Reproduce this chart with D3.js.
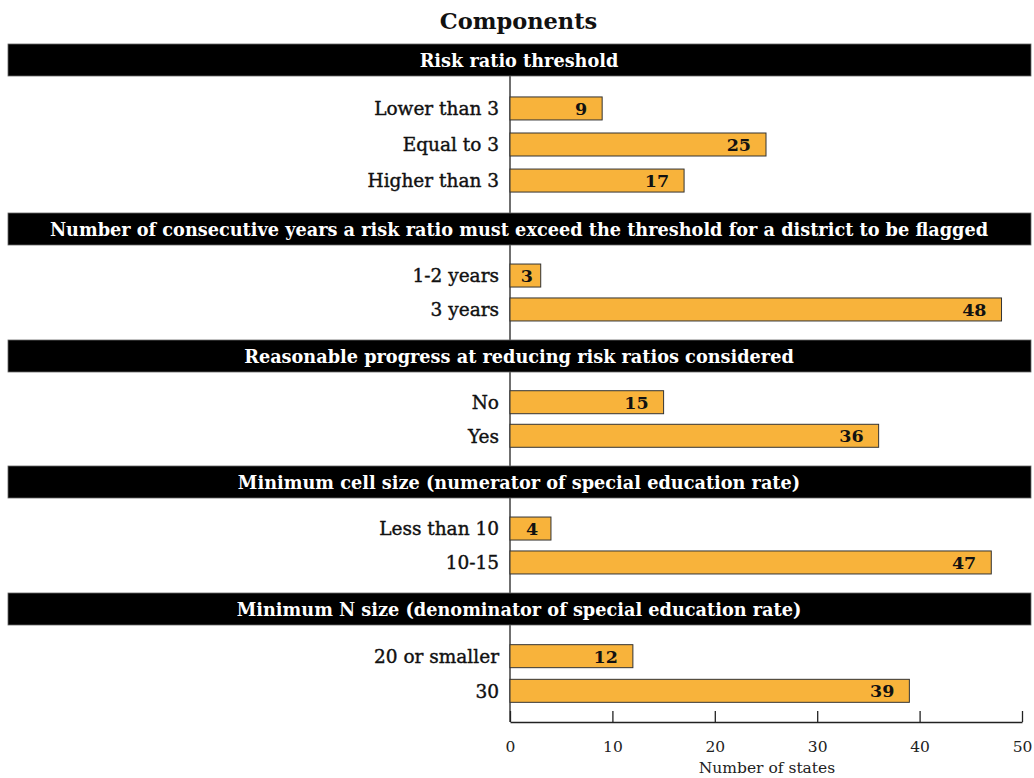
<!DOCTYPE html>
<html>
<head>
<meta charset="utf-8">
<script src="https://cdn.jsdelivr.net/npm/d3@7"></script>
<style>
  html, body { margin: 0; padding: 0; background: #fff; }
  svg { display: block; }
  text { font-family: "DejaVu Serif", serif; }
</style>
</head>
<body>
<svg id="chart" width="1034" height="778"></svg>
<script>
// ---- data ----
const groups = [
  "Risk ratio threshold",
  "Number of consecutive years a risk ratio must exceed the threshold for a district to be flagged",
  "Reasonable progress at reducing risk ratios considered",
  "Minimum cell size (numerator of special education rate)",
  "Minimum N size (denominator of special education rate)"
];
const categories1 = ["Lower than 3", "Equal to 3", "Higher than 3"];
const categories2 = ["1-2 years", "3 years"];
const categories3 = ["No", "Yes"];
const categories4 = ["Less than 10", "10-15"];
const categories5 = ["20 or smaller", "30"];
const values1 = [9, 25, 17];
const values2 = [3, 48];
const values3 = [15, 36];
const values4 = [4, 47];
const values5 = [12, 39];
const xTicks = [0, 10, 20, 30, 40, 50];
const chartTitle = "Components";
const xTitle = "Number of states";

const categories = [categories1, categories2, categories3, categories4, categories5];
const values = [values1, values2, values3, values4, values5];

// ---- layout ----
const svg = d3.select("#chart");
const headerTops = [44, 213, 340, 466, 593];
const headerH = 32;
const axisY = 722;
const headerX0 = 8, headerX1 = 1031;
const barH = 23;
const barColor = "#F8B33B";

const x = d3.scaleLinear().domain([0, 50]).range([510, 1022]);

// title
svg.append("text")
  .attr("x", 518.5).attr("y", 29)
  .attr("text-anchor", "middle")
  .attr("font-weight", "bold")
  .attr("font-size", 22.5)
  .attr("fill", "#111")
  .text(chartTitle);

// vertical baseline
svg.append("line")
  .attr("x1", x(0)).attr("x2", x(0))
  .attr("y1", headerTops[0] + headerH).attr("y2", axisY)
  .attr("stroke", "#222").attr("stroke-width", 1.3);

groups.forEach((g, i) => {
  const top = headerTops[i] + headerH;
  const bottom = i < groups.length - 1 ? headerTops[i + 1] : axisY;
  const y = d3.scaleBand()
    .domain(categories[i])
    .range([top, bottom])
    .paddingInner(0)
    .paddingOuter(0.4);

  const data = categories[i].map((c, j) => ({ c, v: values[i][j] }));
  const grp = svg.append("g");

  grp.selectAll("rect.bar").data(data).join("rect")
    .attr("class", "bar")
    .attr("x", x(0))
    .attr("y", d => y(d.c) + y.bandwidth() / 2 - barH / 2)
    .attr("width", d => x(d.v) - x(0))
    .attr("height", barH)
    .attr("fill", barColor)
    .attr("stroke", "#333")
    .attr("stroke-width", 1);

  grp.selectAll("text.cat").data(data).join("text")
    .attr("class", "cat")
    .attr("x", 499)
    .attr("y", d => y(d.c) + y.bandwidth() / 2)
    .attr("dy", "0.37em")
    .attr("text-anchor", "end")
    .attr("font-size", 18.5)
    .attr("fill", "#111")
    .attr("stroke", "#111")
    .attr("stroke-width", 0.4)
    .text(d => d.c);

  grp.selectAll("text.val").data(data).join("text")
    .attr("class", "val")
    .attr("x", d => d.v < 6 ? (x(0) + x(d.v)) / 2 + 1.5 : x(d.v) - 15)
    .attr("y", d => y(d.c) + y.bandwidth() / 2)
    .attr("dy", "0.37em")
    .attr("text-anchor", d => d.v < 6 ? "middle" : "end")
    .attr("font-size", 17.5)
    .attr("font-weight", "bold")
    .attr("fill", "#111")
    .text(d => d.v);

  // header
  svg.append("rect")
    .attr("x", headerX0).attr("y", headerTops[i])
    .attr("width", headerX1 - headerX0).attr("height", headerH)
    .attr("fill", "#000")
    .attr("stroke", "#666").attr("stroke-width", 0.8);
  svg.append("text")
    .attr("x", (headerX0 + headerX1) / 2 - 0.5)
    .attr("y", headerTops[i] + headerH / 2)
    .attr("dy", "0.37em")
    .attr("text-anchor", "middle")
    .attr("font-weight", "bold")
    .attr("font-size", 17.7)
    .attr("fill", "#fff")
    .text(g);
});

// x axis
const axis = d3.axisBottom(x).tickValues(xTicks).tickSizeInner(-11).tickSizeOuter(0).tickPadding(19);
const ax = svg.append("g").attr("transform", `translate(0,${axisY})`).call(axis);
ax.select(".domain").attr("stroke", "#222").attr("stroke-width", 1.3);
ax.selectAll(".tick line").attr("stroke", "#222").attr("stroke-width", 1.3);
ax.selectAll(".tick text")
  .attr("font-family", "DejaVu Serif, serif")
  .attr("font-size", 15.5)
  .attr("fill", "#222");

svg.append("text")
  .attr("x", 767).attr("y", 773)
  .attr("text-anchor", "middle")
  .attr("font-size", 15.5)
  .attr("fill", "#222")
  .text(xTitle);
</script>
</body>
</html>
